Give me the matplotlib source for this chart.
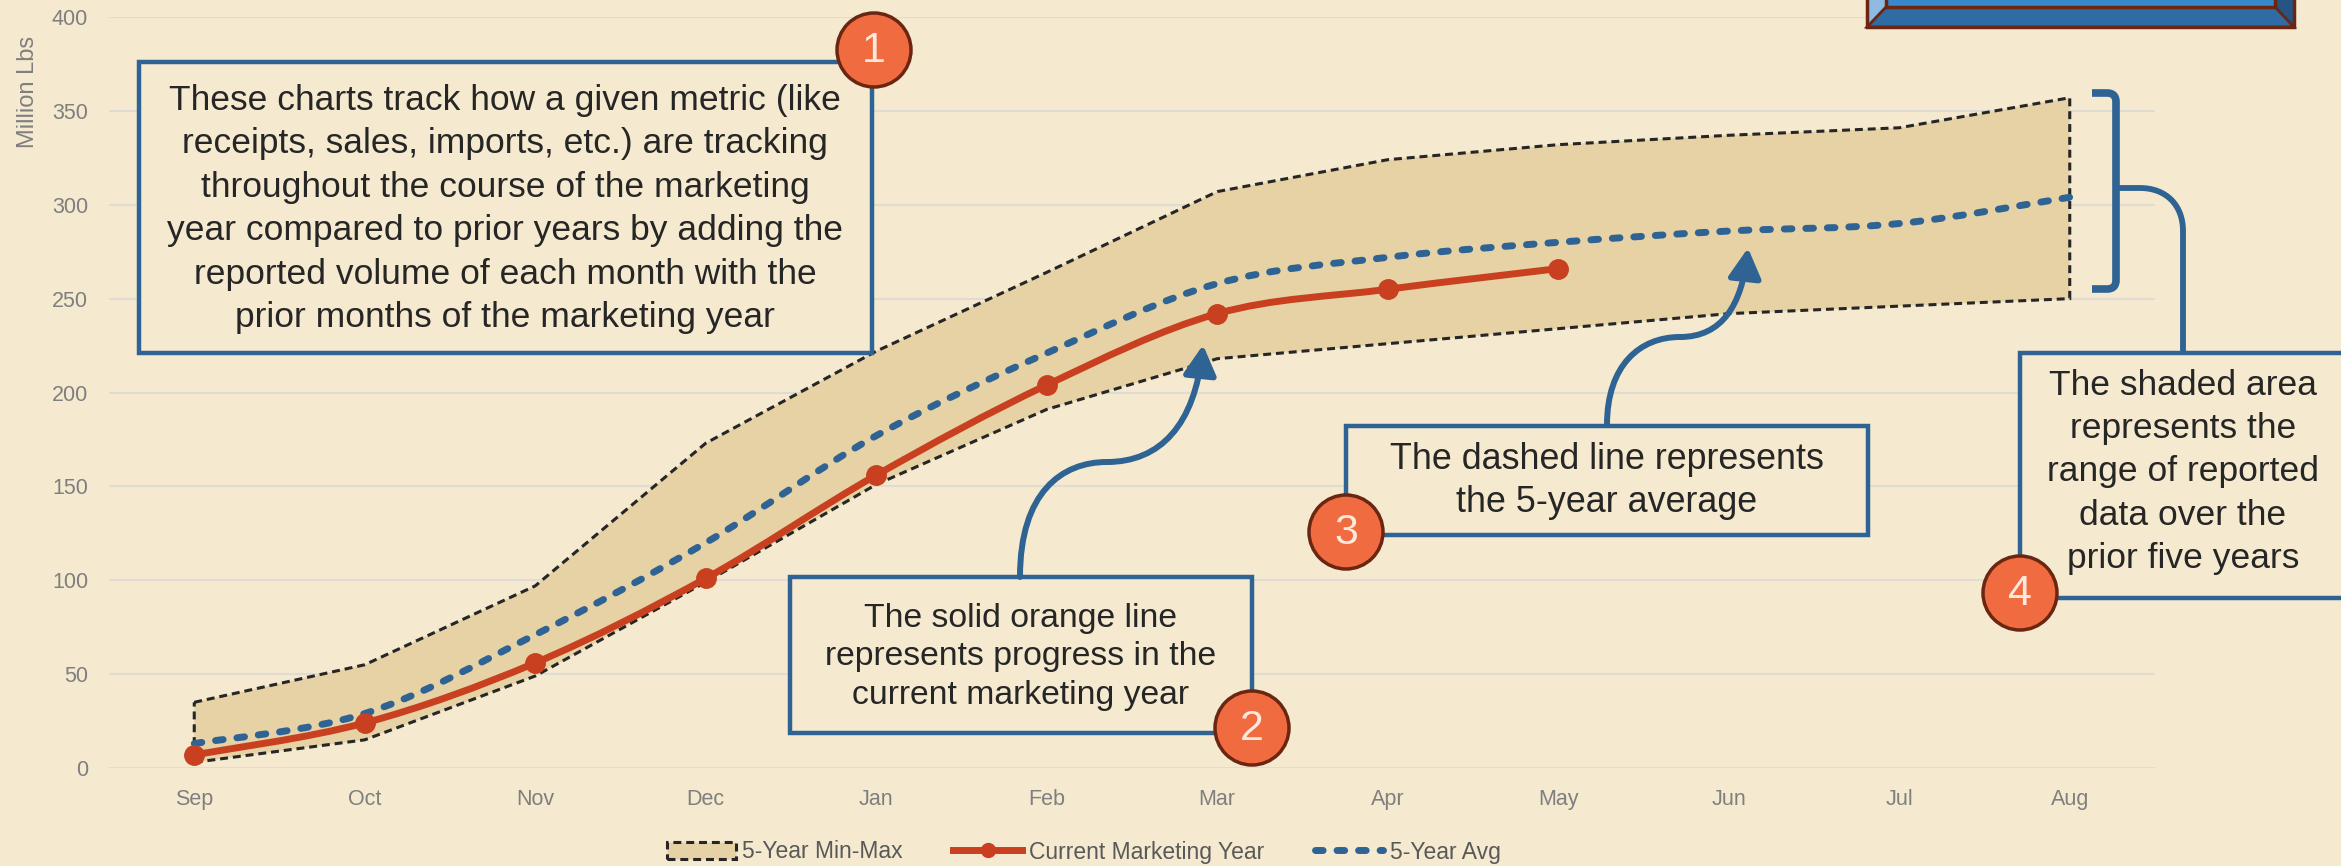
import numpy as np
import matplotlib.pyplot as plt
from matplotlib.path import Path
from matplotlib.patches import PathPatch, Rectangle, Ellipse, Polygon, FancyArrowPatch, ArrowStyle
from matplotlib.lines import Line2D

# cumulative volumes, million lbs
months = ["Sep", "Oct", "Nov", "Dec", "Jan", "Feb", "Mar", "Apr", "May", "Jun", "Jul", "Aug"]
current_year = [7, 24, 56, 101, 156, 204, 242, 255, 266]
five_yr_avg = [13, 29, 71, 120, 177, 221, 258, 272, 280, 286, 290, 304]
five_yr_max = [35, 55, 97, 173, 222, 264, 307, 324, 332, 337, 341, 357]
five_yr_min = [3, 15, 49, 99, 151, 191, 218, 226, 234, 242, 246, 250]

BG = "#f5eacf"
FILL = "#e6d2a5"
RED = "#c8401f"
BLUE = "#2e6393"
DARK = "#262626"
CIRCLE = "#f06c40"
BROWN = "#6b2612"
GRAY = "#7f7f7f"

W, H = 2341, 866
TEXTFONT = ["Liberation Sans", "DejaVu Sans"]
NARROW = ["Liberation Sans Narrow", "Liberation Sans", "DejaVu Sans"]


def fx(x, y):
    # pixel position -> figure fraction
    return (x / W, 1 - y / H)


def smooth_path(xs, ys):
    # cardinal spline through the points, as cubic bezier segments
    pts = np.column_stack([xs, ys]).astype(float)
    n = len(pts)
    verts = [pts[0]]
    codes = [Path.MOVETO]
    for i in range(n - 1):
        p0 = pts[i - 1] if i > 0 else pts[i]
        p1, p2 = pts[i], pts[i + 1]
        p3 = pts[i + 2] if i + 2 < n else pts[i + 1]
        verts += [p1 + (p2 - p0) / 6, p2 - (p3 - p1) / 6, p2]
        codes += [Path.CURVE4] * 3
    return Path(verts, codes)


def fig_path(segments):
    verts, codes = [], []
    for code, pts in segments:
        for p in pts:
            verts.append(fx(*p))
            codes.append(code)
    return Path(verts, codes)


fig = plt.figure(figsize=(W / 100, H / 100), dpi=100, facecolor=BG)
ax = fig.add_axes([109 / W, 1 - 768 / H, (2155 - 109) / W, (768 - 17) / H])
ax.set_facecolor(BG)

x = np.arange(len(months))
xc = np.arange(len(current_year))

# min-max band
band = ax.fill(np.r_[x, x[::-1]], np.r_[five_yr_max, five_yr_min[::-1]],
               facecolor=FILL, edgecolor=DARK, lw=2.2,
               linestyle=(0, (2.6, 1.6)), zorder=2, label="5-Year Min-Max")[0]

# 5-year average
ax.add_patch(PathPatch(smooth_path(x, five_yr_avg), fill=False, edgecolor=BLUE,
                       lw=5, linestyle=(0, (1.1, 2.0)), capstyle="round", zorder=3))
# current marketing year
ax.add_patch(PathPatch(smooth_path(xc, current_year), fill=False, edgecolor=RED,
                       lw=5, capstyle="round", zorder=4))
ax.plot(xc, current_year, "o", color=RED, ms=14, zorder=5)

ax.set_xlim(-0.5, len(months) - 0.5)
ax.set_ylim(0, 400)
ax.set_yticks(np.arange(0, 401, 50))
ax.set_xticks(x)
ax.set_xticklabels(months)
ax.tick_params(length=0, labelsize=15.5, labelcolor=GRAY, pad=15)
for lab in ax.get_xticklabels() + ax.get_yticklabels():
    lab.set_family(TEXTFONT)
ax.grid(axis="y", color="#e0dcd3", lw=1.5)
ax.set_axisbelow(True)
for s in ax.spines.values():
    s.set_visible(False)

fig.text(*fx(28, 92), "Million Lbs", rotation=90, ha="center", va="center",
         fontsize=17, color=GRAY, family=NARROW)

handles = [band,
           Line2D([], [], color=RED, lw=5, marker="o", ms=10),
           Line2D([], [], color=BLUE, lw=5, linestyle=(0, (1.1, 2.0)),
                  dash_capstyle="round")]
fig.legend(handles, ["5-Year Min-Max", "Current Marketing Year", "5-Year Avg"],
           loc="center", bbox_to_anchor=(1084 / W, 1 - 852 / H), ncol=3,
           frameon=False, handlelength=3.0, columnspacing=2.2, handletextpad=0.3,
           prop={"family": NARROW, "size": 16.5}, labelcolor="#595959")

# beveled button at the top right
bx0, bx1, ix0, ix1 = 1867, 2294, 1886, 2275
fig.patches.append(Polygon([fx(bx0, -20), fx(ix0, -20), fx(ix0, 7), fx(bx0, 27)],
                           closed=True, facecolor="#8fbbe2", edgecolor="none",
                           transform=fig.transFigure, zorder=6))
fig.patches.append(Polygon([fx(bx1, -20), fx(ix1, -20), fx(ix1, 7), fx(bx1, 27)],
                           closed=True, facecolor="#275485", edgecolor="none",
                           transform=fig.transFigure, zorder=6))
fig.patches.append(Polygon([fx(bx0, 27), fx(ix0, 7), fx(ix1, 7), fx(bx1, 27)],
                           closed=True, facecolor="#2f6ca3", edgecolor=BROWN, lw=2,
                           transform=fig.transFigure, zorder=6))
fig.patches.append(Polygon([fx(ix0, -20), fx(ix1, -20), fx(ix1, 7), fx(ix0, 7)],
                           closed=True, facecolor="#3a88cc", edgecolor=BROWN, lw=2.5,
                           transform=fig.transFigure, zorder=6))
fig.patches.append(Polygon([fx(bx0, -20), fx(bx1, -20), fx(bx1, 27), fx(bx0, 27)],
                           closed=True, facecolor="none", edgecolor=BROWN, lw=2.5,
                           transform=fig.transFigure, zorder=7))


def box(x0, y0, x1, y1):
    fig.patches.append(Rectangle(fx(x0, y1), (x1 - x0) / W, (y1 - y0) / H,
                                 facecolor=BG, edgecolor=BLUE, lw=3.2,
                                 transform=fig.transFigure, zorder=8))


def badge(x0, y0, num):
    fig.patches.append(Ellipse(fx(x0, y0), 74 / W, 74 / H, facecolor=CIRCLE,
                               edgecolor=BROWN, lw=2.5, transform=fig.transFigure,
                               zorder=10))
    fig.text(*fx(x0, y0 + 1), num, ha="center", va="center", fontsize=31,
             color="#fde8dc", family=NARROW, zorder=11)


def arrow(segments):
    fig.patches.append(FancyArrowPatch(path=fig_path(segments),
                                       arrowstyle=ArrowStyle("-|>", head_length=0.9,
                                                             head_width=0.5),
                                       mutation_scale=20, color=BLUE, lw=4.3,
                                       transform=fig.transFigure, zorder=9))


def curve(segments, lw):
    fig.patches.append(PathPatch(fig_path(segments), fill=False, edgecolor=BLUE,
                                 lw=lw, capstyle="butt", joinstyle="round",
                                 transform=fig.transFigure, zorder=9))


# callout 1
box(139, 62, 872, 353)
fig.text(*fx(505, 209),
         "These charts track how a given metric (like\n"
         "receipts, sales, imports, etc.) are tracking\n"
         "throughout the course of the marketing\n"
         "year compared to prior years by adding the\n"
         "reported volume of each month with the\n"
         "prior months of the marketing year",
         ha="center", va="center", fontsize=25.5, linespacing=1.4,
         color=DARK, family=TEXTFONT, zorder=9)
badge(874, 50, "1")

# callout 2
arrow([(Path.MOVETO, [(1020, 577)]),
       (Path.CURVE4, [(1020, 492), (1062, 462), (1107, 462)]),
       (Path.CURVE4, [(1160, 462), (1195, 425), (1203, 345)])])
box(790, 577, 1252, 733)
fig.text(*fx(1021, 657),
         "The solid orange line\nrepresents progress in the\ncurrent marketing year",
         ha="center", va="center", fontsize=24.3, linespacing=1.33,
         color=DARK, family=TEXTFONT, zorder=9)
badge(1252, 728, "2")

# callout 3
arrow([(Path.MOVETO, [(1607, 425)]),
       (Path.CURVE4, [(1607, 365), (1640, 337), (1680, 337)]),
       (Path.CURVE4, [(1722, 337), (1742, 305), (1748, 248)])])
box(1346, 426, 1868, 535)
fig.text(*fx(1607, 481), "The dashed line represents\nthe 5-year average",
         ha="center", va="center", fontsize=25.8, linespacing=1.3,
         color=DARK, family=TEXTFONT, zorder=9)
badge(1346, 532, "3")

# callout 4 with the range bracket
curve([(Path.MOVETO, [(2092, 93)]), (Path.LINETO, [(2107, 93)]),
       (Path.CURVE4, [(2113, 93), (2116, 96), (2116, 102)]),
       (Path.LINETO, [(2116, 280)]),
       (Path.CURVE4, [(2116, 286), (2113, 289), (2107, 289)]),
       (Path.LINETO, [(2092, 289)])], 5.5)
curve([(Path.MOVETO, [(2116, 188)]), (Path.LINETO, [(2140, 188)]),
       (Path.CURVE4, [(2166, 188), (2183, 205), (2183, 231)]),
       (Path.LINETO, [(2183, 353)])], 4.2)
box(2020, 353, 2380, 598)
fig.text(*fx(2183, 472),
         "The shaded area\nrepresents the\nrange of reported\ndata over the\nprior five years",
         ha="center", va="center", fontsize=25.5, linespacing=1.4,
         color=DARK, family=TEXTFONT, zorder=9)
badge(2020, 593, "4")

fig.savefig("out.png", dpi=100, facecolor=BG)
